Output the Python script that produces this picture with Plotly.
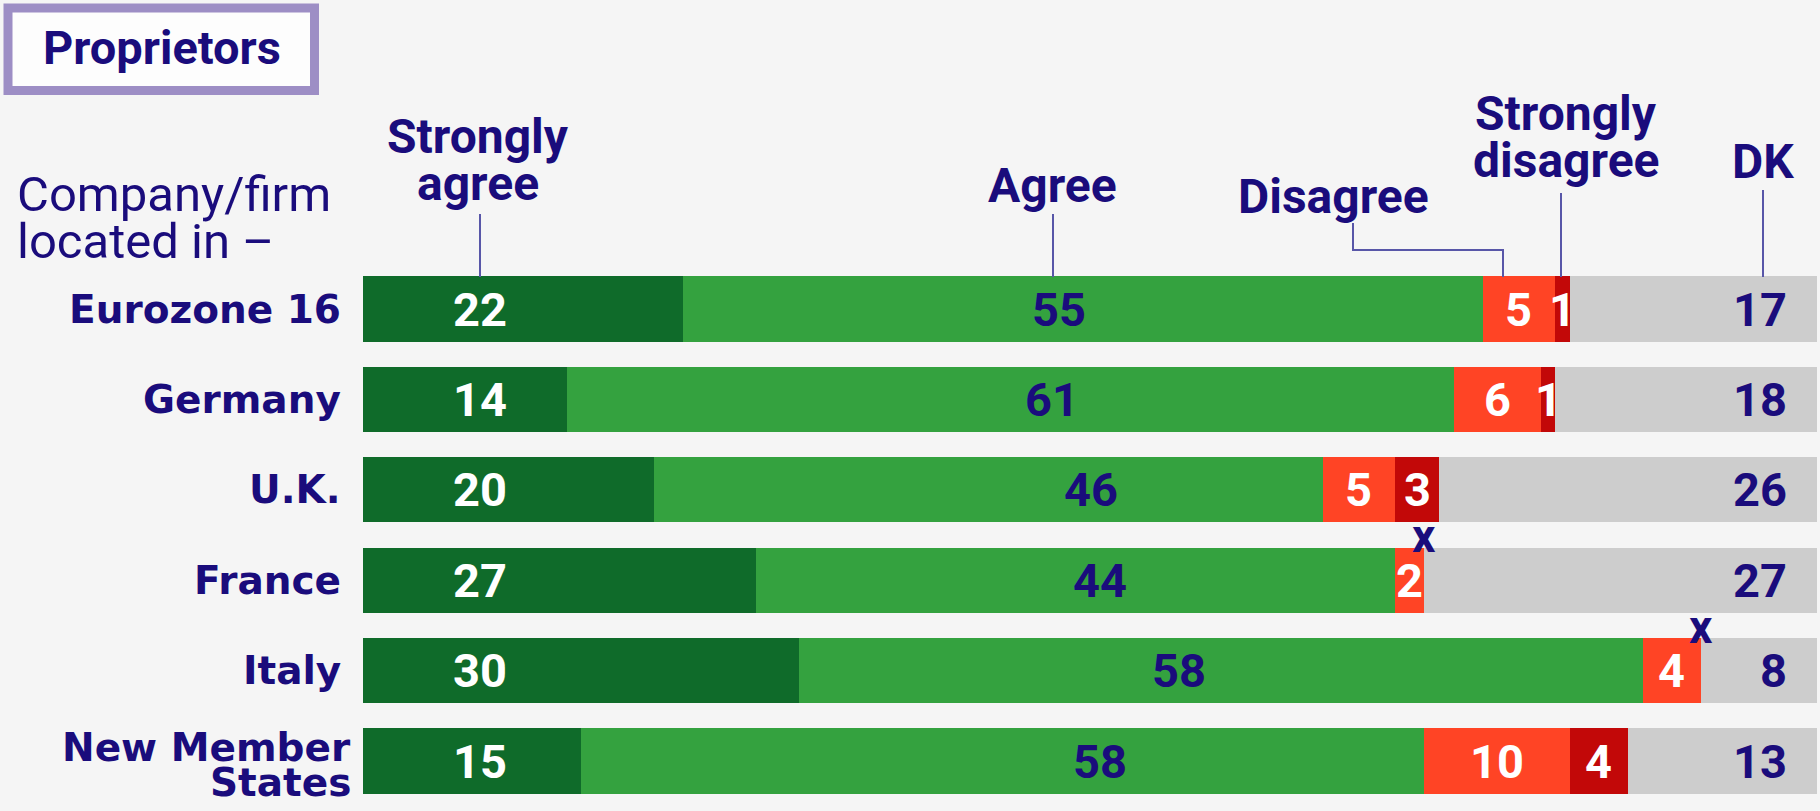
import plotly.graph_objects as go

# ---------------- data ----------------
categories = ["Eurozone 16", "Germany", "U.K.", "France", "Italy", "New Member States"]
category_lines = [["Eurozone 16"], ["Germany"], ["U.K."], ["France"], ["Italy"], ["New Member", "States"]]
series_names = ["Strongly agree", "Agree", "Disagree", "Strongly disagree", "DK"]
strongly_agree = [22, 14, 20, 27, 30, 15]
agree = [55, 61, 46, 44, 58, 58]
disagree = [5, 6, 5, 2, 4, 10]
strongly_disagree = [1, 1, 3, 0, 0, 4]
dont_know = [17, 18, 26, 27, 8, 13]

title_text = "Proprietors"
intro_lines = ["Company/firm", "located in –"]

# ---------------- style / layout ----------------
W, H = 1820, 811
X0_PX = 363.0          # pixel of value 0
PX_PER_UNIT = 14.54    # pixels per percentage point
ROW0_PX = 309.0        # pixel centre of first row
ROW_STEP = 90.4        # pixels between rows
BAR_W = 0.72

NAVY = "#1a0c7c"
LEADER = "#5856a8"
BG = "#f5f5f5"
colors = ["#0f6b2a", "#34a23f", "#ff4425", "#c20808", "#cdcdcd"]
label_colors = ["white", NAVY, "white", "white", NAVY]
FONT = "Roboto"
CAT_FONT = "DejaVu Sans"

def xd(px):
    return (px - X0_PX) / PX_PER_UNIT

def yd(px):
    return (px - ROW0_PX) / ROW_STEP

series = [strongly_agree, agree, disagree, strongly_disagree, dont_know]
rows = list(range(len(categories)))

fig = go.Figure()
for name, vals, col in zip(series_names, series, colors):
    fig.add_trace(go.Bar(
        name=name, y=rows, x=vals, orientation="h", width=BAR_W,
        marker=dict(color=col, line=dict(width=0)), hoverinfo="skip",
    ))

ann = []
def text(x, y, s, size, color=NAVY, bold=True, xanchor="center", yanchor="middle",
         yshift=0, family=FONT):
    ann.append(dict(
        x=x, y=y, xref="x", yref="y", text=f"<b>{s}</b>" if bold else s,
        showarrow=False, xanchor=xanchor, yanchor=yanchor, yshift=yshift,
        font=dict(family=family, size=size, color=color),
    ))

VAL_SIZE = 47
# label positions (percentage scale)
sa_label_x = 8.06
agree_label_x = [47.9, 47.4, 50.1, 50.7, 56.1, 50.7]
dk_label_right = 98.1

for i in rows:
    text(sa_label_x, i, strongly_agree[i], VAL_SIZE, label_colors[0])
    text(agree_label_x[i], i, agree[i], VAL_SIZE, label_colors[1])
    c_dis = strongly_agree[i] + agree[i]
    text(c_dis + disagree[i] / 2, i, disagree[i], VAL_SIZE, label_colors[2])
    c_sd = c_dis + disagree[i]
    if strongly_disagree[i] > 0:
        text(c_sd + strongly_disagree[i] / 2, i, strongly_disagree[i], VAL_SIZE, label_colors[3])
    else:
        text(c_sd, i, "x", 46, NAVY, yshift=44)
    text(dk_label_right, i, dont_know[i], VAL_SIZE, label_colors[4], xanchor="right")

# category labels
CAT_SIZE = 39
for i, lines in enumerate(category_lines):
    if len(lines) == 1:
        text(xd(343), i, lines[0], CAT_SIZE, xanchor="right", family=CAT_FONT)
    else:
        text(xd(353), i + yd(747) - yd(761), lines[0], CAT_SIZE, xanchor="right", family=CAT_FONT)
        text(xd(353), i + yd(782) - yd(761), lines[1], CAT_SIZE, xanchor="right", family=CAT_FONT)

# header labels (centre px, baseline px per line)
HEAD_SIZE = 48
headers = [
    (["Strongly", "agree"], 478, [153, 200]),
    (["Agree"], 1052, [202]),
    (["Disagree"], 1333, [213]),
    (["Strongly", "disagree"], 1566, [130, 177]),
    (["DK"], 1763, [178]),
]
for lines, cx, bases in headers:
    for ln, b in zip(lines, bases):
        text(xd(cx), yd(b - 0.342 * HEAD_SIZE), ln, HEAD_SIZE)

# intro text
INTRO_SIZE = 49
for ln, b in zip(intro_lines, [211, 258]):
    text(xd(15), yd(b - 0.342 * INTRO_SIZE), ln, INTRO_SIZE, bold=False, xanchor="left")

# title
TITLE_SIZE = 47
text(xd(162), yd(64 - 0.342 * TITLE_SIZE), title_text, TITLE_SIZE)

shapes = []
def seg(pts):
    path = "M " + " L ".join(f"{xd(px)},{yd(py)}" for px, py in pts)
    shapes.append(dict(type="path", path=path, xref="x", yref="y",
                       line=dict(color=LEADER, width=2)))

seg([(480, 214), (480, 277)])
seg([(1053, 214), (1053, 277)])
seg([(1353, 223), (1353, 250), (1503, 250), (1503, 277)])
seg([(1561, 193), (1561, 277)])
seg([(1763, 190), (1763, 277)])

shapes.append(dict(type="rect", xref="x", yref="y", layer="below",
                   x0=xd(8), x1=xd(314.5), y0=yd(8), y1=yd(90.5),
                   fillcolor="#fdfdfd", line=dict(color="#9d8ec5", width=9)))

fig.update_layout(
    width=W, height=H, barmode="stack", showlegend=False,
    margin=dict(l=0, r=0, t=0, b=0),
    paper_bgcolor=BG, plot_bgcolor=BG,
    xaxis=dict(range=[xd(0), xd(W)], visible=False, fixedrange=True),
    yaxis=dict(range=[yd(H), yd(0)], visible=False, fixedrange=True),
    annotations=ann, shapes=shapes, bargap=0,
)

fig.write_html(
    "out.html",
    config={"displayModeBar": False},
    post_script="document.body.style.margin='0';document.body.style.background='" + BG + "';",
)
